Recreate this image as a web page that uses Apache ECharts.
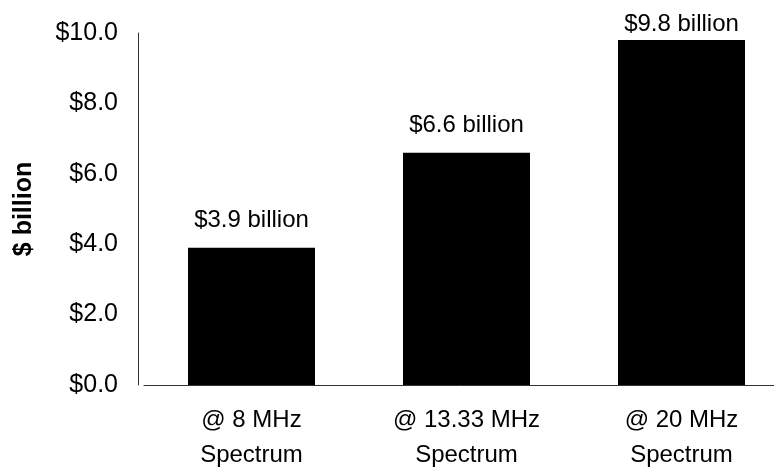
<!DOCTYPE html>
<html>
<head>
<meta charset="utf-8">
<script src="https://cdn.jsdelivr.net/npm/echarts@6/dist/echarts.min.js"></script>
<style>
html,body{margin:0;padding:0;background:#fff;}
#chart{width:774px;height:472px;}
</style>
</head>
<body>
<div id="chart"></div>
<script>
// Auction value estimates by spectrum amount
const categories = ['@ 8 MHz\nSpectrum', '@ 13.33 MHz\nSpectrum', '@ 20 MHz\nSpectrum'];
const values = [3.9, 6.6, 9.8];
const valueLabels = ['$3.9 billion', '$6.6 billion', '$9.8 billion'];
const yTicks = { min: 0, max: 10, interval: 2 };

const font = 'Liberation Sans, Arial, sans-serif';
const chart = echarts.init(document.getElementById('chart'));

chart.setOption({
  animation: false,
  backgroundColor: '#fff',
  grid: { left: 144, width: 645, top: 33, bottom: 87, outerBoundsMode: 'none', containLabel: false },
  xAxis: {
    type: 'category',
    data: categories,
    axisLine: { show: true, lineStyle: { color: '#333', width: 1 } },
    axisTick: { show: false },
    axisLabel: {
      color: '#000', fontFamily: font, fontSize: 24, lineHeight: 35, margin: 18
    }
  },
  yAxis: {
    type: 'value',
    min: yTicks.min, max: yTicks.max, interval: yTicks.interval,
    offset: 6,
    name: '$ billion',
    nameLocation: 'middle',
    nameGap: 101,
    nameRotate: 90,
    nameTextStyle: { color: '#000', fontFamily: font, fontSize: 25, fontWeight: 'bold' },
    axisLine: { show: true, lineStyle: { color: '#333', width: 1 } },
    axisTick: { show: false },
    splitLine: { show: false },
    axisLabel: {
      color: '#000', fontFamily: font, fontSize: 25, margin: 20,
      formatter: v => '$' + v.toFixed(1)
    }
  },
  series: [{
    type: 'bar',
    barWidth: 127,
    itemStyle: { color: '#000' },
    data: values.map((v, i) => ({
      value: v,
      label: {
        show: true,
        position: 'top',
        distance: i === 2 ? 4 : 15,
        formatter: valueLabels[i],
        color: '#000', fontFamily: font, fontSize: 24
      }
    }))
  }]
});
</script>
</body>
</html>
